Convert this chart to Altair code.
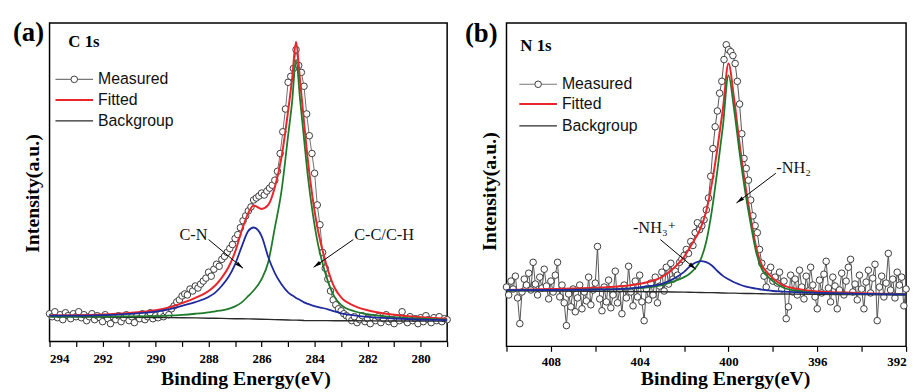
import altair as alt
import pandas as pd

SERIF = "Liberation Serif, Times New Roman, DejaVu Serif, serif"
SANS = "Liberation Sans, Arial, sans-serif"

# ---------------- panel (a): C 1s ----------------
c_meas_energy = [
    294.0, 293.9, 293.8, 293.7, 293.6, 293.5, 293.4, 293.3, 293.2, 293.1,
    293.0, 292.9, 292.8, 292.7, 292.6, 292.5, 292.4, 292.3, 292.2, 292.1,
    292.0, 291.9, 291.8, 291.7, 291.6, 291.5, 291.4, 291.3, 291.2, 291.1,
    291.0, 290.9, 290.8, 290.7, 290.6, 290.5, 290.4, 290.3, 290.2, 290.1,
    290.0, 289.9, 289.8, 289.7, 289.6, 289.5, 289.4, 289.3, 289.2, 289.1,
    289.0, 288.9, 288.8, 288.7, 288.6, 288.5, 288.4, 288.3, 288.2, 288.1,
    288.0, 287.9, 287.8, 287.7, 287.6, 287.5, 287.4, 287.3, 287.2, 287.1,
    287.0, 286.9, 286.8, 286.7, 286.6, 286.5, 286.4, 286.3, 286.2, 286.1,
    286.0, 285.9, 285.8, 285.7, 285.6, 285.5, 285.4, 285.3, 285.2, 285.1,
    285.0, 284.9, 284.8, 284.7, 284.6, 284.5, 284.4, 284.3, 284.2, 284.1,
    284.0, 283.9, 283.8, 283.7, 283.6, 283.5, 283.4, 283.3, 283.2, 283.1,
    283.0, 282.9, 282.8, 282.7, 282.6, 282.5, 282.4, 282.3, 282.2, 282.1,
    282.0, 281.9, 281.8, 281.7, 281.6, 281.5, 281.4, 281.3, 281.2, 281.1,
    281.0, 280.9, 280.8, 280.7, 280.6, 280.5, 280.4, 280.3, 280.2, 280.1,
    280.0, 279.9, 279.8, 279.7, 279.6, 279.5, 279.4, 279.3, 279.2, 279.1,
    279.0]
c_meas_counts = [
    28, 25, 30, 24, 27, 22, 29, 26, 23, 28,
    25, 30, 24, 27, 21, 25, 28, 22, 26, 24,
    20, 27, 23, 18, 25, 22, 26, 20, 24, 27,
    21, 25, 19, 26, 23, 28, 22, 25, 29, 23,
    26, 24, 28, 25, 30, 27, 33, 36, 40, 42,
    46, 48, 47, 53, 51, 56, 54, 58, 61, 64,
    70, 66, 73, 78, 76, 83, 86, 90, 94, 98,
    104, 108, 115, 122, 127, 132, 136, 143, 145, 147,
    150, 148, 152, 155, 158, 163, 172, 190, 212, 235,
    262, 268, 276, 295, 279, 272, 258, 230, 208, 190,
    170, 138, 118, 90, 74, 63, 51, 42, 37, 33,
    31, 28, 26, 24, 21, 25, 19, 22, 26, 20,
    23, 18, 24, 21, 25, 19, 23, 27, 20, 22,
    18, 24, 21, 30, 22, 19, 25, 21, 23, 18,
    24, 20, 26, 22, 19, 24, 21, 25, 20, 23,
    22]

c_fit_energy = [294, 293, 292, 291, 290, 289.5, 289, 288.5, 288, 287.75, 287.5, 287.25,
                287, 286.75, 286.5, 286.3, 286, 285.75, 285.5, 285.25, 285, 284.85, 284.7,
                284.55, 284.4, 284.25, 284.1, 283.9, 283.7, 283.5, 283.25, 283, 282.5, 282,
                281, 280, 279]
c_fitted = [26.2, 26.4, 27.2, 28.8, 31.5, 34.4, 38.8, 44, 51, 56.5, 64.5, 75,
            90.5, 112, 130, 137.5, 134, 138, 156, 186, 233, 265, 303,
            264, 222, 182, 150, 116, 92, 72.5, 54.5, 44.5, 36, 31.5,
            27, 24.5, 23]
c_background = [25, 24.8, 24.6, 24.4, 24.2, 24.1, 24, 23.8, 23.5, 23.4, 23.3, 23.1,
                23, 22.9, 22.8, 22.7, 22.5, 22.3, 22.1, 21.9, 21.7, 21.6, 21.5,
                21.4, 21.2, 21.1, 21, 21, 21, 21, 20.9, 20.9, 20.9, 20.8,
                20.7, 20.6, 20.5]
c_peak_cn = [26, 26, 26.6, 27.9, 30.2, 32.5, 36, 39.8, 45, 49.4, 56.3, 65.1,
             78, 95.9, 111.8, 115.2, 106.5, 85.3, 69.1, 57.9, 49.7, 46.6, 44,
             41.9, 39.5, 37.9, 36.5, 35, 33.8, 32.5, 30.4, 28.4, 26.4, 24.8,
             23.2, 22.1, 21.5]
c_peak_cc = [25.2, 25.2, 25.2, 25.3, 25.5, 26, 26.8, 28, 29.5, 30.5, 31.5, 33,
             35.5, 39.5, 46, 51.5, 63, 80, 115, 152, 208, 242, 285,
             245, 205, 166, 135, 102, 79, 61, 45, 37, 30.5, 27.5,
             24.5, 23, 22]
c_ticks = [294, 293, 292, 291, 290, 289, 288, 287, 286, 285, 284, 283, 282, 281, 280, 279]
c_note_text = ["C-N", "C-C/C-H"]
c_note_energy = [288.57, 281.38]
c_note_level = [108, 108]
c_arrow_from_energy = [288.0, 282.54]
c_arrow_from_level = [103, 103]
c_arrow_to_energy = [286.7, 284.04]
c_arrow_to_level = [74, 75]
c_arrow_angle = [129, 235]

# ---------------- panel (b): N 1s ----------------
n_meas_energy = [
    410.0, 409.9, 409.8, 409.7, 409.6, 409.5, 409.4, 409.3, 409.2, 409.1,
    409.0, 408.9, 408.8, 408.7, 408.6, 408.5, 408.4, 408.3, 408.2, 408.1,
    408.0, 407.9, 407.8, 407.7, 407.6, 407.5, 407.4, 407.3, 407.2, 407.1,
    407.0, 406.9, 406.8, 406.7, 406.6, 406.5, 406.4, 406.3, 406.2, 406.1,
    406.0, 405.9, 405.8, 405.7, 405.6, 405.5, 405.4, 405.3, 405.2, 405.1,
    405.0, 404.9, 404.8, 404.7, 404.6, 404.5, 404.4, 404.3, 404.2, 404.1,
    404.0, 403.9, 403.8, 403.7, 403.6, 403.5, 403.4, 403.3, 403.2, 403.1,
    403.0, 402.9, 402.8, 402.7, 402.6, 402.5, 402.4, 402.3, 402.2, 402.1,
    402.0, 401.9, 401.8, 401.7, 401.6, 401.5, 401.4, 401.3, 401.2, 401.1,
    401.0, 400.9, 400.8, 400.7, 400.6, 400.5, 400.4, 400.3, 400.2, 400.1,
    400.0, 399.9, 399.8, 399.7, 399.6, 399.5, 399.4, 399.3, 399.2, 399.1,
    399.0, 398.9, 398.8, 398.7, 398.6, 398.5, 398.4, 398.3, 398.2, 398.1,
    398.0, 397.9, 397.8, 397.7, 397.6, 397.5, 397.4, 397.3, 397.2, 397.1,
    397.0, 396.9, 396.8, 396.7, 396.6, 396.5, 396.4, 396.3, 396.2, 396.1,
    396.0, 395.9, 395.8, 395.7, 395.6, 395.5, 395.4, 395.3, 395.2, 395.1,
    395.0, 394.9, 394.8, 394.7, 394.6, 394.5, 394.4, 394.3, 394.2, 394.1,
    394.0, 393.9, 393.8, 393.7, 393.6, 393.5, 393.4, 393.3, 393.2, 393.1,
    393.0, 392.9, 392.8, 392.7, 392.6, 392.5, 392.4, 392.3, 392.2, 392.1,
    392.0]
n_meas_counts = [
    60, 52, 66, 58, 71, 49, 23, 55, 68, 62,
    74, 57, 85, 63, 52, 70, 59, 78, 61, 48,
    66, 55, 72, 85, 50, 62, 44, 21, 53, 40,
    58, 35, 49, 62, 38, 55, 46, 70, 42, 57,
    64, 101, 48, 36, 60, 45, 67, 39, 52, 76,
    44, 58, 33, 62, 49, 81, 55, 41, 66, 50,
    72, 45, 26, 58, 47, 64, 52, 70, 44, 61,
    75, 56, 80, 63, 84, 68, 76, 72, 85, 88,
    92, 98, 94, 106, 102, 115, 125, 118, 122, 128,
    138, 150, 172, 200, 222, 238, 256, 268, 290, 305,
    300, 298, 294, 286, 268, 245, 215, 190, 180, 168,
    148, 132, 122, 115, 98, 84, 71, 60, 76, 80,
    66, 70, 64, 75, 58, 66, 28, 40, 72, 55,
    68, 52, 77, 60, 48, 71, 56, 80, 62, 50,
    38, 67, 54, 73, 86, 59, 45, 70, 61, 38,
    57, 74, 52, 66, 80, 88, 55, 63, 47, 72,
    58, 38, 65, 77, 54, 69, 83, 26, 60, 71,
    50, 64, 94, 57, 68, 49, 75, 62, 70, 41,
    58]

n_fit_energy = [410, 408, 406, 404.5, 403.5, 403, 402.5, 402, 401.75, 401.5, 401.25, 401,
                400.75, 400.5, 400.25, 400, 399.75, 399.5, 399.25, 399, 398.75, 398.5,
                398.25, 398, 397.5, 397, 396, 395, 394, 392]
n_fitted = [57, 58, 59.3, 61.5, 65.8, 70, 78.5, 90.5, 99.5, 109, 119.8, 136.8,
            164.5, 200, 240.3, 286, 251, 205, 164.2, 130, 100, 82.3,
            74.6, 69, 61.5, 58.5, 55.5, 54.6, 53.8, 53]
n_background = [56.3, 56, 55.7, 55.5, 55.3, 55.2, 55, 54.8, 54.7, 54.6, 54.5, 54.4,
                54.3, 54.2, 54, 53.9, 53.8, 53.6, 53.5, 53.4, 53.3, 53.2,
                53.1, 53, 52.9, 52.8, 52.6, 52.4, 52.3, 52]
n_peak_nh3 = [56.8, 57, 57.5, 58.5, 61.1, 63.2, 68, 75.3, 80.7, 84.6, 86.3, 85.2,
              81.8, 76.2, 71.3, 67.9, 64.8, 62.6, 60.7, 59.4, 58.3, 57.5,
              56.7, 56, 55.4, 54.8, 54.1, 53.5, 53.1, 52.5]
n_peak_nh2 = [56.5, 57, 57.5, 58.5, 60, 62, 65.5, 70, 73.5, 79, 88, 106,
              137, 178, 223, 274, 240, 196, 157, 124, 95, 78,
              71, 66, 59, 56.5, 54, 53.5, 53, 52.5]
n_ticks = [410, 408, 406, 404, 402, 400, 398, 396, 394, 392]
n_note_text = ["-NH\u2082", "-NH\u2083\u207a"]
n_note_energy = [397.07, 403.33]
n_note_level = [180, 120]
n_arrow_from_energy = [397.87, 403.07]
n_arrow_from_level = [175, 108]
n_arrow_to_energy = [399.64, 401.47]
n_arrow_to_level = [145, 78]
n_arrow_angle = [233, 130]

legend_labels = ["Measured", "Fitted", "Backgroup"]

RED = "#e8262b"
GREEN = "#1f7a2c"
BLUE = "#1f2a9e"
BLACK = "#2a2a2a"
ARROW = "M0,0L0.45,1.8L-0.45,1.8Z"
DOT = 44


def make_panel(meas_e, meas_h, fit_e, fitted, bg, comp1, comp2, ticks, step, xdom,
               width, height, tag, core, note_text, note_e, note_h,
               a_e0, a_h0, a_e1, a_h1, a_ang, tag_xy, core_xy, leg_x, leg_rows,
               title_x, title_y, meas_line_color, label_pad, title_pad):
    xs = alt.Scale(domain=xdom, nice=False, zero=False)
    ys = alt.Scale(domain=[0, height], nice=False, zero=False)
    xa = alt.Axis(values=ticks, format="d",
                  labelExpr=f"datum.value % {step} == 0 ? datum.label : ''",
                  labelOverlap=False, title="Binding Energy(eV)", titleX=title_x,
                  grid=False, domain=False, tickSize=5, tickWidth=1.2, tickColor="black",
                  labelFont=SERIF, labelFontWeight="bold", labelFontSize=13,
                  labelColor="black", labelPadding=label_pad,
                  titleFont=SERIF, titleFontWeight="bold", titleFontSize=20,
                  titleColor="black", titlePadding=title_pad)
    ya = alt.Axis(title="Intensity(a.u.)", labels=False, ticks=False, domain=False,
                  grid=False, titleFont=SERIF, titleFontWeight="bold", titleFontSize=20,
                  titleColor="black", titlePadding=7, titleY=title_y)

    def X(f):
        return alt.X(f, type="quantitative", scale=xs, axis=xa)

    def Y(f):
        return alt.Y(f, type="quantitative", scale=ys, axis=ya)

    meas = pd.DataFrame({"E": meas_e, "h": meas_h})
    curves = pd.DataFrame({"E": fit_e, "fit": fitted, "bg": bg, "c1": comp1, "c2": comp2})
    notes = pd.DataFrame({"E": note_e, "h": note_h, "label": note_text})
    arrows = pd.DataFrame({"e0": a_e0, "h0": a_h0, "e1": a_e1, "h1": a_h1, "ang": a_ang})
    one = pd.DataFrame({"k": [0]})

    layers = [
        alt.Chart(meas).mark_line(color=meas_line_color, strokeWidth=1).encode(
            x=X("E"), y=Y("h")),
        alt.Chart(meas).mark_point(shape="circle", filled=True, color="white",
                                   stroke="#3c3c3c", strokeWidth=1, size=DOT, opacity=1).encode(
            x=X("E"), y=Y("h")),
        alt.Chart(curves).mark_line(color=BLACK, strokeWidth=1.4).encode(x=X("E"), y=Y("bg")),
        alt.Chart(curves).mark_line(color=RED, strokeWidth=2, interpolate="monotone").encode(
            x=X("E"), y=Y("fit")),
        alt.Chart(curves).mark_line(color=GREEN, strokeWidth=1.8, interpolate="monotone").encode(
            x=X("E"), y=Y("c2")),
        alt.Chart(curves).mark_line(color=BLUE, strokeWidth=1.8, interpolate="monotone").encode(
            x=X("E"), y=Y("c1")),
        alt.Chart(arrows).mark_rule(color="black", strokeWidth=1).encode(
            x=X("e0"), y=Y("h0"), x2="e1", y2="h1"),
        alt.Chart(arrows).mark_point(shape=ARROW, filled=True, color="black", size=80,
                                     opacity=1).encode(
            x=X("e1"), y=Y("h1"), angle=alt.Angle("ang:Q", scale=None)),
        alt.Chart(notes).mark_text(font=SERIF, fontSize=16.5, color="#111",
                                   align="center", baseline="middle").encode(
            x=X("E"), y=Y("h"), text="label:N"),
        alt.Chart(one).mark_text(font=SERIF, fontSize=27, fontWeight="bold", color="black",
                                 align="left", baseline="middle").encode(
            x=alt.value(tag_xy[0]), y=alt.value(tag_xy[1]), text=alt.value(tag)),
        alt.Chart(one).mark_text(font=SERIF, fontSize=17, fontWeight="bold", color="black",
                                 align="left", baseline="middle").encode(
            x=alt.value(core_xy[0]), y=alt.value(core_xy[1]), text=alt.value(core)),
        # legend
        alt.Chart(one).mark_rule(color="#777", strokeWidth=1.2).encode(
            x=alt.value(leg_x[0]), x2=alt.value(leg_x[1]), y=alt.value(leg_rows[0])),
        alt.Chart(one).mark_point(shape="circle", filled=True, color="white", stroke="#3c3c3c",
                                  strokeWidth=1, size=DOT, opacity=1).encode(
            x=alt.value((leg_x[0] + leg_x[1]) / 2), y=alt.value(leg_rows[0])),
        alt.Chart(one).mark_rule(color=RED, strokeWidth=2).encode(
            x=alt.value(leg_x[0]), x2=alt.value(leg_x[1]), y=alt.value(leg_rows[1])),
        alt.Chart(one).mark_rule(color=BLACK, strokeWidth=1.4).encode(
            x=alt.value(leg_x[0]), x2=alt.value(leg_x[1]), y=alt.value(leg_rows[2])),
    ]
    for lab, ry in zip(legend_labels, leg_rows):
        layers.append(alt.Chart(one).mark_text(font=SANS, fontSize=16, color="#111",
                                               align="left", baseline="middle").encode(
            x=alt.value(leg_x[1] + 5), y=alt.value(ry), text=alt.value(lab)))
    return alt.layer(*layers).properties(width=width, height=height)


panel_a = make_panel(c_meas_energy, c_meas_counts, c_fit_energy, c_fitted, c_background,
                     c_peak_cn, c_peak_cc, c_ticks, 2, [294, 279], 402, 322, "(a)", "C 1s",
                     c_note_text, c_note_energy, c_note_level,
                     c_arrow_from_energy, c_arrow_from_level, c_arrow_to_energy,
                     c_arrow_to_level, c_arrow_angle,
                     (-37, 10), (19, 19), (6, 44), (57, 78, 99), 198, 172, "#707070", 6, 4)
panel_b = make_panel(n_meas_energy, n_meas_counts, n_fit_energy, n_fitted, n_background,
                     n_peak_nh3, n_peak_nh2, n_ticks, 4, [410, 392], 404, 327, "(b)", "N 1s",
                     n_note_text, n_note_energy, n_note_level,
                     n_arrow_from_energy, n_arrow_from_level, n_arrow_to_energy,
                     n_arrow_to_level, n_arrow_angle,
                     (-42, 11), (14, 23), (13, 51), (62, 82, 104), 221, 170, "#555555", 4, 1)

chart = alt.hconcat(panel_a, panel_b, spacing=10).properties(
    padding={"left": 4, "top": 8, "right": 0, "bottom": 0}
).configure_view(stroke="black", strokeWidth=1.5)

chart.save("out.html", embed_options={"renderer": "svg", "actions": False})
